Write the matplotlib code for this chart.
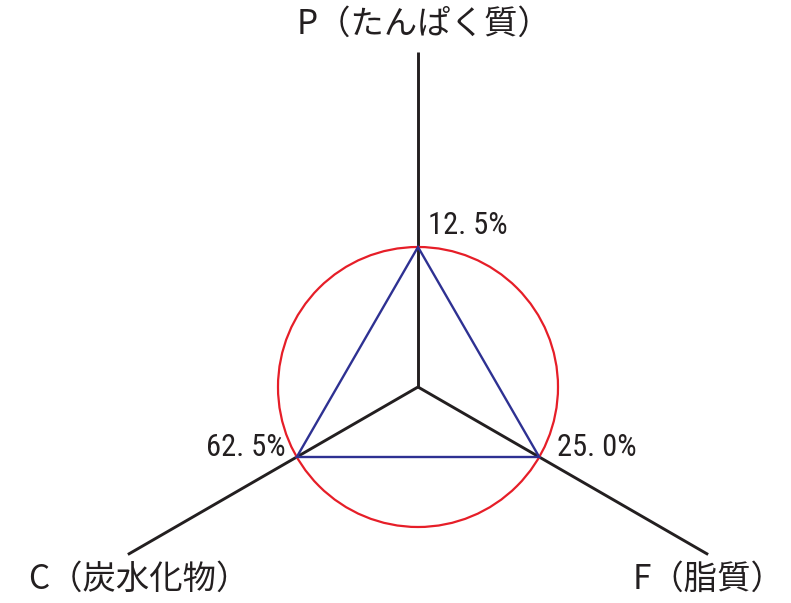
import numpy as np
import matplotlib
matplotlib.use("Agg")
import matplotlib.pyplot as plt
from matplotlib.patches import Circle, Polygon

# ---------------------------------------------------------------------------
# Data
# ---------------------------------------------------------------------------
labels   = ["P（たんぱく質）", "F（脂質）", "C（炭水化物）"]
values   = [12.5, 25.0, 62.5]          # % of energy
ideal    = [12.5, 25.0, 62.5]          # reference balance -> red circle
angles   = [90.0, -30.0, 210.0]        # axis directions (deg)

# ---------------------------------------------------------------------------
# Style
# ---------------------------------------------------------------------------
INK   = "#231f20"
RED   = "#e61e28"
BLUE  = "#2e3192"
JP    = ["Noto Sans CJK JP", "DejaVu Sans"]
NUM   = ["Roboto Condensed", "DejaVu Sans"]

AXIS_LEN = 335.0     # length of each axis in px
RADIUS   = 140.0     # radius of the reference circle in px

fig = plt.figure(figsize=(7.91, 6.03), dpi=100, facecolor="white")
ax = fig.add_axes([0, 0, 1, 1])
ax.set_xlim(-418, 373)
ax.set_ylim(-216, 387)
ax.set_aspect("equal")
ax.axis("off")

theta = np.deg2rad(angles)
ux, uy = np.cos(theta), np.sin(theta)

# axes
for x, y in zip(ux, uy):
    ax.plot([0, x * AXIS_LEN], [0, y * AXIS_LEN], color=INK, lw=2.1,
            solid_capstyle="butt", zorder=2)

# reference circle
ax.add_patch(Circle((0, 0), RADIUS, fill=False, ec=RED, lw=1.6, zorder=3))

# balance triangle
r = np.array(values) / np.array(ideal) * RADIUS
pts = np.column_stack([ux * r, uy * r])
ax.add_patch(Polygon(pts, closed=True, fill=False, ec=BLUE, lw=1.7,
                     joinstyle="miter", zorder=4))

# value labels
val_off = [(10, 22, "left"), (18, 9, "left"), (-11, 9, "right")]
for (px, py), v, (dx, dy, ha) in zip(pts, values, val_off):
    ax.annotate(f"{v:.1f}".replace(".", ". ") + "%", (px, py),
                xytext=(dx, dy), textcoords="offset pixels",
                ha=ha, va="center", fontsize=22, color=INK, family=NUM)

# axis titles (bottom ones kept inside the canvas)
lab_off = [(6, 28), (0, -24.5), (11, -24.5)]
for x, y, lab, (dx, dy) in zip(ux, uy, labels, lab_off):
    ax.annotate(lab, (x * AXIS_LEN, y * AXIS_LEN), xytext=(dx, dy),
                textcoords="offset pixels", ha="center", va="center",
                fontsize=24, color=INK, family=JP)

fig.savefig("out.png", dpi=100, facecolor="white")
